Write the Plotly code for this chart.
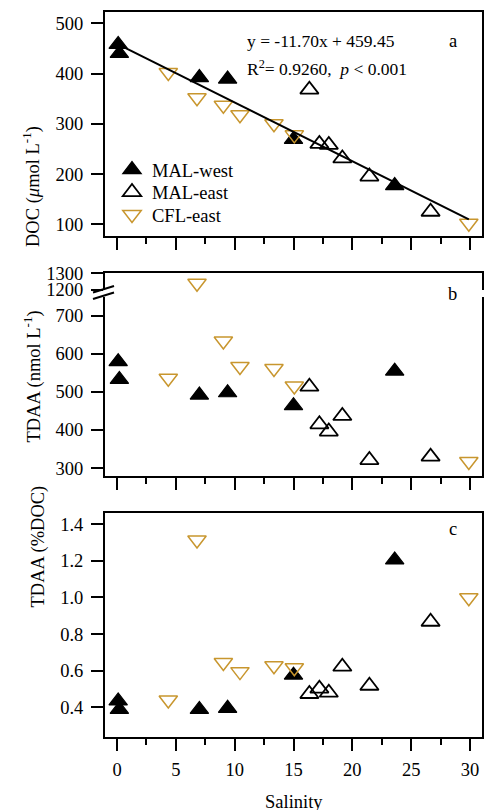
import numpy as np
import plotly.graph_objects as go

# ---------------- data ----------------
sal_west = [0.1, 0.2, 7.0, 9.4, 15.0, 23.6]
doc_west = [458, 440, 392, 389, 269, 177]
tdaa_west = [580, 533, 492, 498, 464, 555]
pct_west = [0.435, 0.389, 0.389, 0.395, 0.576, 1.204]

sal_east = [16.35, 17.2, 18.0, 19.15, 21.45, 26.65]
doc_east = [368, 260, 258, 231, 195, 125]
tdaa_east = [514, 415, 396, 437, 321, 330]
pct_east = [0.473, 0.502, 0.480, 0.622, 0.518, 0.867]

sal_cfl = [4.36, 6.8, 9.04, 10.45, 13.34, 15.07, 29.9]
doc_cfl = [402, 352, 337, 318, 300, 278, 102]
tdaa_cfl = [536, 1240, 634, 567, 562, 516, 317]
pct_cfl = [0.440, 1.313, 0.645, 0.595, 0.627, 0.616, 0.998]

fit_slope = -11.70
fit_intercept = 459.45

x_ticks = [0, 5, 10, 15, 20, 25, 30]
doc_ticks = [100, 200, 300, 400, 500]
tdaa_low_ticks = [300, 400, 500, 600, 700]
tdaa_high_ticks = [1200, 1300]
pct_ticks = [0.4, 0.6, 0.8, 1.0, 1.2, 1.4]

# ---------------- layout helpers ----------------
W, H = 486, 810
FONT = "Liberation Serif, Times New Roman, serif"
GOLD = "#C8962E"
BREAK = 1000  # values above go on the upper (broken) axis segment

def px_x(p):
    return p / W

def px_y(p):
    return 1 - p / H

xdom = [px_x(105), px_x(482)]
xrange_ = [-1.02, 31.02]

fig = go.Figure()

STYLES = [
    dict(name="MAL-west", symbol="triangle-up", color="black", lw=1.2, legend="legend"),
    dict(name="MAL-east", symbol="triangle-up-open", color="black", lw=1.8, legend="legend2"),
    dict(name="CFL-east", symbol="triangle-down-open", color=GOLD, lw=1.5, legend="legend3"),
]

def group_traces(xs_list, ys_list, xa, ya, show):
    for xs, ys, st in zip(xs_list, ys_list, STYLES):
        fig.add_trace(go.Scatter(
            x=xs, y=ys, mode="markers", name=st["name"], showlegend=show,
            legend=st["legend"],
            xaxis=xa, yaxis=ya, cliponaxis=False,
            marker=dict(symbol=st["symbol"], size=16, color=st["color"],
                        line=dict(color=st["color"], width=st["lw"])),
        ))

# panel a
group_traces([sal_west, sal_east, sal_cfl], [doc_west, doc_east, doc_cfl], "x", "y", True)
all_sal = np.array(sal_west + sal_east + sal_cfl)
fx = np.array([all_sal.min(), all_sal.max()])
fig.add_trace(go.Scatter(x=fx, y=fit_slope * fx + fit_intercept, mode="lines",
                         line=dict(color="black", width=2), showlegend=False,
                         xaxis="x", yaxis="y"))

# panel b (split over broken axis)
def split(xs, ys, upper):
    xs = np.array(xs); ys = np.array(ys)
    m = ys > BREAK if upper else ys <= BREAK
    return xs[m], ys[m]

pairs_b = [(sal_west, tdaa_west), (sal_east, tdaa_east), (sal_cfl, tdaa_cfl)]
lo = [split(s, v, False) for s, v in pairs_b]
hi = [split(s, v, True) for s, v in pairs_b]
group_traces([a for a, b in lo], [b for a, b in lo], "x2", "y2", False)
group_traces([a for a, b in hi], [b for a, b in hi], "x3", "y3", False)

# panel c
group_traces([sal_west, sal_east, sal_cfl], [pct_west, pct_east, pct_cfl], "x4", "y4", False)

tickfont = dict(family=FONT, size=18.5, color="black")

def xax(anchor, labels, **kw):
    d = dict(domain=xdom, range=xrange_, anchor=anchor, tickvals=x_ticks,
             ticks="outside", ticklen=12, tickwidth=1.5, tickcolor="black",
             showticklabels=labels, tickfont=tickfont, ticklabelstandoff=3,
             minor=dict(ticks="outside", ticklen=6, tickwidth=1.5, tickcolor="black",
                        dtick=2.5, tick0=0, showgrid=False),
             showline=True, linewidth=2, linecolor="black",
             showgrid=False, zeroline=False, automargin=False)
    d.update(kw)
    return d

def yax(anchor, dom, rng, tv, **kw):
    d = dict(domain=dom, range=rng, anchor=anchor, tickvals=tv,
             ticks="outside", ticklen=12, tickwidth=1.5, tickcolor="black",
             tickfont=tickfont, ticklabelstandoff=4,
             showline=True, mirror=True, linewidth=2, linecolor="black",
             showgrid=False, zeroline=False, automargin=False)
    d.update(kw)
    return d

def leg(ypx):
    return dict(x=px_x(112), y=px_y(ypx), xanchor="left", yanchor="middle",
                bgcolor="rgba(0,0,0,0)", font=dict(family=FONT, size=18.5, color="black"))

fig.update_layout(
    width=W, height=H, margin=dict(l=0, r=0, t=0, b=0, pad=0, autoexpand=False),
    paper_bgcolor="white", plot_bgcolor="rgba(0,0,0,0)",
    font=dict(family=FONT, size=18.5, color="black"),
    xaxis=xax("y", False, mirror=True),
    yaxis=yax("x", [px_y(236), px_y(12)], [76.7, 522.5], doc_ticks),
    xaxis2=xax("y2", False, mirror=False),
    yaxis2=yax("x2", [px_y(476), px_y(297)], [279, 750], tdaa_low_ticks),
    xaxis3=dict(domain=xdom, range=xrange_, anchor="y3", side="top",
                showline=True, linewidth=2, linecolor="black",
                ticks="", showticklabels=False, showgrid=False, zeroline=False,
                automargin=False),
    yaxis3=yax("x3", [px_y(290.33), px_y(272.97)], [1198, 1302], tdaa_high_ticks),
    xaxis4=xax("y4", True, mirror=True),
    yaxis4=yax("x4", [px_y(736.7), px_y(512.7)], [0.240, 1.462], pct_ticks, tickformat=".1f"),
    legend=leg(170),
    legend2=leg(192.5),
    legend3=leg(215),
    showlegend=True,
)

# axis break marks on panel b
for y0 in (292.5, 299.0):
    fig.add_shape(type="line", xref="paper", yref="paper",
                  x0=px_x(93), y0=px_y(y0), x1=px_x(114), y1=px_y(y0 - 6.5),
                  line=dict(color="black", width=2))

ann = []
def add_ann(text, x, y, **kw):
    d = dict(text=text, x=px_x(x), y=px_y(y), xref="paper", yref="paper",
             showarrow=False, font=dict(family=FONT, size=18.5, color="black"))
    d.update(kw)
    ann.append(d)

add_ann("DOC (<i>μ</i>mol L<sup>-1</sup>)", 17, 124, textangle=-90)
add_ann("TDAA (nmol L<sup>-1</sup>)", 18, 377, textangle=-90)
add_ann("TDAA (%DOC)", 25, 610, textangle=-90)
add_ann("Salinity", 293.5, 790, yanchor="top")
add_ann("a", 459, 29)
add_ann("b", 459, 294)
add_ann("c", 459, 529)
add_ann("y = -11.70x + 459.45", 245, 29, xanchor="left",
        font=dict(family=FONT, size=17.5, color="black"))
add_ann("R<sup>2</sup>= 0.9260,  <i>p</i> < 0.001", 245, 55, xanchor="left",
        font=dict(family=FONT, size=17.5, color="black"))
fig.update_layout(annotations=ann)

fig.write_html("out.html")
